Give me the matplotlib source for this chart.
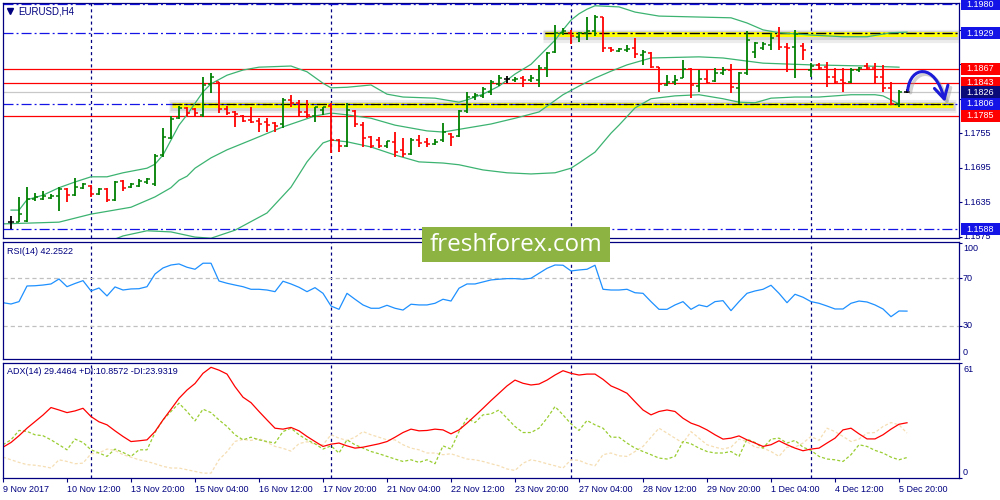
import matplotlib
matplotlib.use('Agg')
import matplotlib.pyplot as plt
import numpy as np
from matplotlib.patches import Rectangle, FancyArrowPatch
from matplotlib.path import Path
from matplotlib.transforms import blended_transform_factory, ScaledTranslation

plt.rcParams['font.family'] = ['Liberation Sans', 'DejaVu Sans']
plt.rcParams['lines.scale_dashes'] = False

# ---- bar data (EURUSD H4), bar index 1..113 ----
opens = [1.1600, 1.1600, 1.1602, 1.1640, 1.1640, 1.1642, 1.1646, 1.1658, 1.1647, 1.1660,
         1.1663, 1.1649, 1.1658, 1.1639, 1.1672, 1.1661, 1.1663, 1.1670, 1.1666, 1.1717,
         1.1747, 1.1781, 1.1799, 1.1797, 1.1787, 1.1841, 1.1844, 1.1797, 1.1792, 1.1785,
         1.1778, 1.1776, 1.1774, 1.1773, 1.1771, 1.1813, 1.1808, 1.1792, 1.1785, 1.1795,
         1.1802, 1.1743, 1.1733, 1.1794, 1.1769, 1.1748, 1.1743, 1.1733, 1.1740, 1.1726,
         1.1719, 1.1743, 1.1740, 1.1736, 1.1743, 1.1754, 1.1750, 1.1794, 1.1818, 1.1820,
         1.1827, 1.1841, 1.1849, 1.1848, 1.1851, 1.1848, 1.1848, 1.1868, 1.1896, 1.1930,
         1.1930, 1.1923, 1.1930, 1.1933, 1.1957, 1.1903, 1.1898, 1.1900, 1.1903, 1.1891,
         1.1895, 1.1870, 1.1839, 1.1844, 1.1851, 1.1867, 1.1837, 1.1849, 1.1846, 1.1860,
         1.1865, 1.1834, 1.1860, 1.1896, 1.1903, 1.1909, 1.1924, 1.1905, 1.1905, 1.1907,
         1.1865, 1.1874, 1.1870, 1.1853, 1.1848, 1.1844, 1.1865, 1.1872, 1.1868, 1.1853,
         1.1834, 1.1806, 1.1826]
highs = [1.1611, 1.1644, 1.1661, 1.1651, 1.1654, 1.1649, 1.1661, 1.1660, 1.1677, 1.1668,
         1.1664, 1.1660, 1.1659, 1.1672, 1.1673, 1.1668, 1.1675, 1.1677, 1.1719, 1.1764,
         1.1785, 1.1802, 1.1801, 1.1799, 1.1853, 1.1860, 1.1845, 1.1802, 1.1794, 1.1787,
         1.1801, 1.1781, 1.1781, 1.1774, 1.1816, 1.1821, 1.1813, 1.1813, 1.1801, 1.1801,
         1.1808, 1.1745, 1.1808, 1.1795, 1.1774, 1.1750, 1.1748, 1.1741, 1.1757, 1.1747,
         1.1747, 1.1752, 1.1747, 1.1745, 1.1773, 1.1755, 1.1795, 1.1827, 1.1825, 1.1835,
         1.1848, 1.1856, 1.1855, 1.1853, 1.1855, 1.1856, 1.1874, 1.1896, 1.1943, 1.1938,
         1.1935, 1.1931, 1.1957, 1.1961, 1.1957, 1.1905, 1.1903, 1.1909, 1.1921, 1.1900,
         1.1896, 1.1870, 1.1856, 1.1856, 1.1882, 1.1868, 1.1865, 1.1865, 1.1868, 1.1870,
         1.1875, 1.1862, 1.1933, 1.1914, 1.1914, 1.1930, 1.1940, 1.1912, 1.1935, 1.1912,
         1.1877, 1.1877, 1.1879, 1.1868, 1.1868, 1.1868, 1.1870, 1.1877, 1.1877, 1.1874,
         1.1844, 1.1830, 1.1832]
lows = [1.1588, 1.1600, 1.1600, 1.1637, 1.1639, 1.1640, 1.1619, 1.1635, 1.1646, 1.1658,
        1.1644, 1.1647, 1.1635, 1.1637, 1.1654, 1.1660, 1.1661, 1.1666, 1.1663, 1.1713,
        1.1745, 1.1780, 1.1785, 1.1783, 1.1783, 1.1825, 1.1790, 1.1787, 1.1766, 1.1774,
        1.1773, 1.1757, 1.1757, 1.1757, 1.1764, 1.1801, 1.1783, 1.1781, 1.1774, 1.1787,
        1.1720, 1.1722, 1.1731, 1.1766, 1.1731, 1.1729, 1.1729, 1.1729, 1.1713, 1.1713,
        1.1717, 1.1731, 1.1731, 1.1734, 1.1740, 1.1733, 1.1748, 1.1790, 1.1813, 1.1816,
        1.1821, 1.1837, 1.1842, 1.1844, 1.1835, 1.1844, 1.1835, 1.1853, 1.1895, 1.1926,
        1.1910, 1.1914, 1.1917, 1.1924, 1.1896, 1.1896, 1.1896, 1.1896, 1.1886, 1.1874,
        1.1868, 1.1827, 1.1837, 1.1839, 1.1851, 1.1816, 1.1827, 1.1840, 1.1844, 1.1856,
        1.1825, 1.1806, 1.1856, 1.1886, 1.1900, 1.1900, 1.1900, 1.1862, 1.1851, 1.1882,
        1.1853, 1.1865, 1.1835, 1.1842, 1.1827, 1.1842, 1.1862, 1.1865, 1.1841, 1.1827,
        1.1804, 1.1801, 1.1825]
closes = [1.1600, 1.1614, 1.1640, 1.1644, 1.1646, 1.1646, 1.1658, 1.1647, 1.1661, 1.1666,
          1.1649, 1.1658, 1.1639, 1.1670, 1.1660, 1.1666, 1.1672, 1.1675, 1.1715, 1.1748,
          1.1780, 1.1799, 1.1790, 1.1790, 1.1839, 1.1853, 1.1797, 1.1790, 1.1788, 1.1776,
          1.1774, 1.1771, 1.1769, 1.1767, 1.1813, 1.1808, 1.1792, 1.1787, 1.1801, 1.1801,
          1.1743, 1.1733, 1.1795, 1.1771, 1.1747, 1.1733, 1.1733, 1.1741, 1.1722, 1.1719,
          1.1743, 1.1738, 1.1736, 1.1740, 1.1757, 1.1748, 1.1794, 1.1818, 1.1821, 1.1832,
          1.1844, 1.1851, 1.1849, 1.1849, 1.1848, 1.1851, 1.1868, 1.1895, 1.1930, 1.1933,
          1.1924, 1.1930, 1.1933, 1.1957, 1.1903, 1.1900, 1.1902, 1.1902, 1.1893, 1.1896,
          1.1870, 1.1841, 1.1844, 1.1848, 1.1867, 1.1839, 1.1849, 1.1842, 1.1860, 1.1865,
          1.1835, 1.1860, 1.1917, 1.1912, 1.1910, 1.1921, 1.1905, 1.1903, 1.1928, 1.1900,
          1.1872, 1.1868, 1.1853, 1.1844, 1.1842, 1.1865, 1.1868, 1.1868, 1.1853, 1.1834,
          1.1806, 1.1827, 1.1826]

# Bollinger bands (read at selected bars)
bb_up_idx = [1, 2, 3, 5, 7, 9, 11, 13, 15, 18, 19, 20, 21, 22, 23, 25, 26, 28, 30, 32,
             36, 38, 40, 41, 43, 46, 48, 50, 54, 57, 58, 60, 62, 64, 66, 68, 69, 70, 71, 72,
             73, 74, 77, 79, 82, 88, 91, 93, 95, 97, 101, 105, 108, 111, 113]
bb_up = [1.1621, 1.1621, 1.1639, 1.1647, 1.1660, 1.1670, 1.1679, 1.1679, 1.1686, 1.1694,
         1.1701, 1.1717, 1.1743, 1.1769, 1.1787, 1.1827, 1.1841, 1.1856, 1.1865, 1.1870,
         1.1872, 1.1862, 1.1842, 1.1834, 1.1835, 1.1839, 1.1823, 1.1818, 1.1816, 1.1809,
         1.1813, 1.1823, 1.1837, 1.1858, 1.1875, 1.1903, 1.1917, 1.1935, 1.1952, 1.1963,
         1.1971, 1.1977, 1.1975, 1.1966, 1.1959, 1.1957, 1.1956, 1.1947, 1.1935, 1.1930,
         1.1926, 1.1923, 1.1923, 1.1930, 1.1931]
bb_mid_idx = [0, 7, 11, 16, 19, 21, 22, 23, 24, 26, 28, 31, 35, 39, 41, 43, 46, 49, 53, 55,
              58, 61, 64, 67, 70, 72, 74, 76, 78, 81, 87, 90, 95, 101, 108, 112]
bb_mid = [1.1597, 1.1600, 1.1614, 1.1626, 1.1644, 1.1660, 1.1673, 1.1680, 1.1694, 1.1712,
          1.1726, 1.1743, 1.1766, 1.1785, 1.1790, 1.1787, 1.1781, 1.1769, 1.1759, 1.1757,
          1.1764, 1.1771, 1.1781, 1.1792, 1.1822, 1.1837, 1.1851, 1.1863, 1.1874, 1.1886,
          1.1888, 1.1886, 1.1877, 1.1874, 1.1872, 1.1870]
bb_low_idx = [0, 7, 13, 15, 18, 21, 24, 26, 29, 33, 36, 38, 39, 40, 41, 43, 46, 49, 52, 55,
              57, 60, 63, 66, 69, 71, 72, 74, 76, 77, 79, 81, 84, 87, 90, 92, 94, 96, 99, 102,
              106, 109, 110, 111, 112]
bb_low = [1.1569, 1.1560, 1.1565, 1.1576, 1.1585, 1.1583, 1.1574, 1.1572, 1.1586, 1.1616,
          1.1661, 1.1705, 1.1722, 1.1738, 1.1743, 1.1740, 1.1731, 1.1717, 1.1705, 1.1703,
          1.1700, 1.1691, 1.1686, 1.1684, 1.1686, 1.1694, 1.1703, 1.1722, 1.1755, 1.1769,
          1.1799, 1.1815, 1.1820, 1.1822, 1.1815, 1.1809, 1.1808, 1.1816, 1.1818, 1.1818,
          1.1822, 1.1822, 1.1820, 1.1813, 1.1806]

# indicators, bar index 0..113
rsi = [49.4, 48.3, 50.3, 63.5, 63.7, 64.3, 65.2, 69.4, 62.9, 65.6,
       68.0, 59.3, 61.8, 55.1, 62.7, 60.1, 61.0, 61.2, 62.9, 73.6,
       78.7, 81.2, 82.1, 79.3, 77.6, 82.7, 82.7, 67.7, 65.8, 64.3,
       62.9, 60.7, 60.7, 60.1, 58.7, 67.5, 65.2, 62.4, 58.7, 62.1,
       57.3, 46.6, 43.8, 57.3, 52.3, 47.5, 44.7, 44.7, 47.2, 44.7,
       43.2, 48.1, 47.5, 47.5, 48.9, 52.3, 50.8, 61.6, 65.2, 65.2,
       66.9, 68.6, 69.2, 69.7, 69.7, 69.2, 70.0, 74.2, 78.4, 81.2,
       81.0, 76.2, 77.0, 77.6, 81.0, 60.7, 60.1, 60.1, 60.7, 57.8,
       57.3, 50.3, 43.8, 43.8, 47.5, 50.3, 43.8, 47.5, 46.0, 50.3,
       51.1, 42.7, 50.3, 57.3, 59.3, 60.7, 64.1, 57.3, 49.4, 56.5,
       54.0, 50.3, 48.9, 46.6, 44.1, 44.1, 48.9, 50.8, 50.0, 47.5,
       44.1, 37.6, 42.4, 42.3]
adx = [16.4, 18.9, 22.5, 26.5, 30.0, 33.5, 37.5, 36.2, 34.8, 35.7,
       37.1, 32.7, 29.9, 28.3, 25.1, 22.1, 19.4, 19.8, 20.3, 24.7,
       30.9, 36.6, 42.4, 46.8, 50.3, 55.7, 58.9, 57.4, 55.3, 48.6,
       43.0, 40.1, 35.4, 30.9, 26.5, 26.0, 26.9, 25.1, 22.1, 19.4,
       16.8, 18.0, 18.6, 17.1, 15.9, 16.4, 17.3, 18.2, 19.4, 21.7,
       24.2, 26.0, 25.1, 25.3, 26.0, 25.6, 23.5, 25.6, 29.2, 33.1,
       37.1, 41.2, 45.1, 49.0, 52.1, 50.4, 49.5, 50.0, 52.1, 54.8,
       57.1, 55.7, 54.8, 55.3, 55.3, 52.5, 49.0, 47.2, 45.1, 40.6,
       36.2, 33.6, 35.4, 36.2, 35.4, 31.8, 29.2, 27.7, 25.6, 23.0,
       20.7, 21.2, 22.4, 20.3, 18.6, 16.8, 17.7, 19.8, 17.7, 15.9,
       14.5, 15.4, 15.9, 18.6, 21.2, 25.6, 26.5, 23.5, 20.8, 20.8,
       23.0, 26.0, 28.6, 29.4]
plus_di = [17.7, 20.3, 25.3, 24.8, 23.0, 22.5, 20.3, 17.7, 15.0, 20.7,
           18.9, 15.0, 13.3, 11.5, 15.4, 13.6, 11.5, 15.0, 15.0, 24.2,
           30.9, 35.4, 39.8, 35.4, 30.4, 36.6, 34.8, 30.9, 27.4, 23.0,
           20.3, 21.7, 20.3, 19.4, 18.6, 24.7, 26.5, 23.0, 20.3, 18.2,
           15.4, 17.1, 13.3, 20.3, 17.7, 15.9, 14.1, 12.9, 11.5, 10.1,
           8.8, 9.7, 8.3, 9.7, 7.6, 17.1, 15.4, 24.7, 31.8, 29.5,
           33.6, 34.1, 36.2, 31.8, 27.4, 24.2, 24.2, 26.5, 31.8, 38.0,
           33.6, 28.8, 25.3, 30.6, 28.3, 26.5, 21.7, 21.7, 18.6, 15.9,
           14.1, 12.4, 10.6, 10.1, 11.5, 19.4, 18.2, 15.9, 14.1, 13.3,
           13.3, 14.1, 11.5, 20.7, 18.9, 15.9, 20.7, 21.2, 18.6, 20.0,
           16.4, 14.7, 11.5, 10.1, 9.7, 8.8, 12.4, 17.7, 16.8, 14.7,
           13.3, 11.1, 9.7, 10.9]
minus_di = [11.1, 9.7, 8.3, 7.1, 6.8, 6.2, 5.3, 9.7, 8.8, 7.6,
            7.9, 12.9, 13.3, 15.4, 14.7, 12.4, 11.1, 9.7, 8.8, 7.6,
            6.2, 5.3, 5.3, 4.4, 3.5, 2.6, 2.6, 9.7, 14.0, 19.5,
            20.5, 20.0, 21.0, 19.0, 16.8, 15.8, 14.3, 18.3, 19.3, 18.0,
            17.7, 23.0, 21.2, 20.0, 21.7, 24.7, 23.0, 21.7, 20.3, 20.3,
            17.7, 15.9, 15.0, 13.3, 13.3, 12.4, 12.9, 11.5, 10.1, 9.7,
            8.8, 7.6, 6.5, 4.8, 4.0, 7.9, 9.7, 8.8, 7.6, 6.5,
            5.3, 9.7, 9.4, 7.6, 6.5, 12.4, 13.3, 11.8, 11.5, 14.1,
            16.8, 21.7, 26.5, 23.9, 21.2, 18.6, 24.7, 21.2, 17.7, 16.4,
            15.4, 16.4, 20.7, 19.4, 16.4, 15.9, 14.1, 11.5, 16.4, 16.4,
            18.6, 22.1, 20.0, 26.5, 24.7, 22.1, 19.4, 20.7, 23.9, 24.2,
            27.4, 29.5, 28.3, 23.9]

# levels
red_levels = [1.1867, 1.1843, 1.1785]
blue_levels = [1.1980, 1.1929, 1.1806, 1.1588]
current_price = 1.1826
yellow_levels = [1.1929, 1.1806]
yellow_from = [67.75, 21.1]
yellow_to = [119.2, 118.8]
separators = [11, 41, 71, 101]
date_idx = [0, 8, 16, 24, 32, 40, 48, 56, 64, 72, 80, 88, 96, 104, 112]
date_labels = ['9 Nov 2017', '10 Nov 12:00', '13 Nov 20:00', '15 Nov 04:00', '16 Nov 12:00',
               '17 Nov 20:00', '21 Nov 04:00', '22 Nov 12:00', '23 Nov 20:00', '27 Nov 04:00',
               '28 Nov 12:00', '29 Nov 20:00', '1 Dec 04:00', '4 Dec 12:00', '5 Dec 20:00']
price_ticks = [1.1575, 1.1635, 1.1695, 1.1755, 1.1815, 1.1875, 1.1935]
price_tick_labels = [1.1575, 1.1635, 1.1695, 1.1755]   # the others sit under the boxes
boxes = [(1.1980, '#1414e6'), (1.1929, '#1414e6'), (1.1867, '#ff0000'), (1.1843, '#ff0000'),
         (1.1826, '#0a0a78'), (1.1806, '#1414e6'), (1.1785, '#ff0000'), (1.1588, '#1414e6')]
# hand drawn arrow (bar, price)
arrow_pts = [(113.1, 1.18302), (113.4, 1.18720), (116.5, 1.18790), (117.75, 1.18094)]

NAVY = '#000080'
FS = 6.5
W, H = 1000, 500
ymin, ymax = 1.15724, 1.19818
PIX = (ymax - ymin) / 235.0


def rect(l, t, r, b):
    return [l / W, 1 - b / H, (r - l) / W, (b - t) / H]


fig = plt.figure(figsize=(10, 5), dpi=100)
ax = fig.add_axes(rect(3, 3, 959, 238))
ax_rsi = fig.add_axes(rect(3, 242, 959, 359))
ax_adx = fig.add_axes(rect(3, 363, 959, 478))

for a in (ax, ax_rsi, ax_adx):
    a.set_xlim(0, 119.5)
    for s in a.spines.values():
        s.set_color(NAVY)
        s.set_linewidth(0.9)
    a.yaxis.tick_right()
    a.tick_params(axis='y', length=2.5, color=NAVY, labelright=False, width=0.8)
    for k in separators:
        a.axvline(k, color=NAVY, lw=0.9, ls=(0, (2.2, 2.2)), zorder=1)
ax.set_xticks([])
ax_rsi.set_xticks([])

# ---- main price panel ----
ax.set_ylim(ymin, ymax)
ax.set_yticks(price_ticks)

for p in blue_levels:
    ax.axhline(p, color='#1414e6', lw=0.9, ls=(0, (7.2, 2.2, 1.4, 2.2)), zorder=1.5)
for p in red_levels:
    ax.axhline(p, color='#ff0000', lw=0.9, zorder=1.5)
ax.axhline(current_price, color='#c8c8c8', lw=0.9, zorder=1.2)

for p, s, e in zip(yellow_levels, yellow_from, yellow_to):
    ax.hlines(p - 2.5 * PIX, s - 0.3, e + 0.3, color='0.45', lw=9.5, alpha=0.13, zorder=1)
    ax.hlines(p - 2.0 * PIX, s - 0.2, e + 0.2, color='0.45', lw=6.5, alpha=0.2, zorder=1)
    ax.hlines(p - 0.8 * PIX, s, e, color='#ffff00', lw=3.6, zorder=1.3)
    ax.hlines(p, s, e, color='black', lw=0.9, ls=(0, (7.2, 2.2, 1.4, 2.2)), zorder=1.6)

ax.plot(bb_up_idx, bb_up, color='#3cb371', lw=0.9, zorder=2)
ax.plot(bb_mid_idx, bb_mid, color='#3cb371', lw=0.9, zorder=2)
ax.plot(bb_low_idx, bb_low, color='#3cb371', lw=0.9, zorder=2)

idx = np.arange(1, len(opens) + 1)
o, h, l, c = map(np.array, (opens, highs, lows, closes))
cols = np.where(c > o, '#008000', np.where(c < o, '#ff0000', '#000000'))
ax.vlines(idx, l, h, colors=cols, lw=1.3, zorder=3)
ax.hlines(o, idx - 0.38, idx, colors=cols, lw=1.1, zorder=3)
ax.hlines(c, idx, idx + 0.38, colors=cols, lw=1.1, zorder=3)

# arrow with shadow
codes = [Path.MOVETO, Path.CURVE4, Path.CURVE4, Path.CURVE4]
arr_path = Path(arrow_pts, codes)
shadow = FancyArrowPatch(path=arr_path, arrowstyle='->,head_length=0.9,head_width=0.5',
                         mutation_scale=10, lw=2.4, color='0.6', alpha=0.45,
                         transform=ax.transData + ScaledTranslation(2 / 72, -2 / 72, fig.dpi_scale_trans),
                         zorder=4)
ax.add_patch(shadow)
ax.add_patch(FancyArrowPatch(path=arr_path, arrowstyle='->,head_length=0.9,head_width=0.5',
                             mutation_scale=10, lw=2.2, color='#1c1cd8', zorder=5))

tr = blended_transform_factory(ax.transAxes, ax.transData)
for p in price_tick_labels:
    ax.text(1 + 4 / 956, p, f'{p:.4f}', transform=tr, va='center', ha='left',
            color=NAVY, fontsize=FS, clip_on=False)
for p, col in boxes:
    ax.add_patch(Rectangle((1 + 1.5 / 956, p - 6 * PIX), 39.5 / 956, 12 * PIX,
                           transform=tr, fc=col, ec='none', clip_on=False, zorder=6))
    ax.text(1 + 21 / 956, p, f'{p:.4f}', transform=tr, va='center', ha='center',
            color='white', fontsize=FS, clip_on=False, zorder=7)

ax.plot([7 / 956], [1 - 8 / 235], marker='v', ms=4, color=NAVY, transform=ax.transAxes)
ax.text(15 / 956, 1 - 8 / 235, 'EURUSD,H4', transform=ax.transAxes, va='center',
        ha='left', color=NAVY, fontsize=7)

# ---- RSI panel ----
k_all = np.arange(len(rsi))
ax_rsi.set_ylim(1.9, 100.6)
ax_rsi.set_yticks([100, 70, 30])
ax_rsi.axhline(70, color='#c0c0c0', lw=0.9, ls=(0, (3, 2.2)))
ax_rsi.axhline(30, color='#c0c0c0', lw=0.9, ls=(0, (3, 2.2)))
ax_rsi.plot(k_all, rsi, color='#1e90ff', lw=0.9)
tr_r = blended_transform_factory(ax_rsi.transAxes, ax_rsi.transData)
for val, lab in [(94.7, '100'), (70, '70'), (30, '30'), (7.0, '0')]:
    ax_rsi.text(1 + 4 / 956, val, lab, transform=tr_r, va='center', ha='left',
                color=NAVY, fontsize=FS, clip_on=False)
ax_rsi.text(4 / 956, 1 - 9 / 117, 'RSI(14) 42.2522', transform=ax_rsi.transAxes,
            va='center', ha='left', color=NAVY, fontsize=FS)

# ---- ADX panel ----
ax_adx.set_ylim(0, 61.2)
ax_adx.set_yticks([61, 0])
ax_adx.plot(k_all, minus_di, color='#f5deb3', lw=0.9, ls=(0, (2.2, 1.5)))
ax_adx.plot(k_all, plus_di, color='#9acd32', lw=0.9, ls=(0, (2.2, 1.5)))
ax_adx.plot(k_all, adx, color='#ff0000', lw=0.9)
tr_a = blended_transform_factory(ax_adx.transAxes, ax_adx.transData)
for val, lab in [(57.8, '61'), (3.0, '0')]:
    ax_adx.text(1 + 4 / 956, val, lab, transform=tr_a, va='center', ha='left',
                color=NAVY, fontsize=FS, clip_on=False)
ax_adx.text(4 / 956, 1 - 8 / 115, 'ADX(14) 29.4464 +DI:10.8572 -DI:23.9319',
            transform=ax_adx.transAxes, va='center', ha='left', color=NAVY, fontsize=FS)
ax_adx.set_xticks(date_idx)
ax_adx.set_xticklabels(date_labels)
ax_adx.tick_params(axis='x', length=3, color=NAVY, width=0.8, labelsize=FS,
                   labelcolor=NAVY, pad=2)
for lbl in ax_adx.get_xticklabels():
    lbl.set_ha('left')

# ---- watermark ----
fig.add_artist(Rectangle((422 / W, 1 - 262 / H), 188 / W, 35 / H, transform=fig.transFigure,
                         fc='#8db443', ec='none', zorder=20))
fig.text(516 / W, 1 - 245 / H, 'freshforex.com', color='white', fontsize=17.5,
         family=['Open Sans', 'DejaVu Sans'], ha='center', va='center', zorder=21)

fig.savefig('out.png', dpi=100, facecolor='white')
